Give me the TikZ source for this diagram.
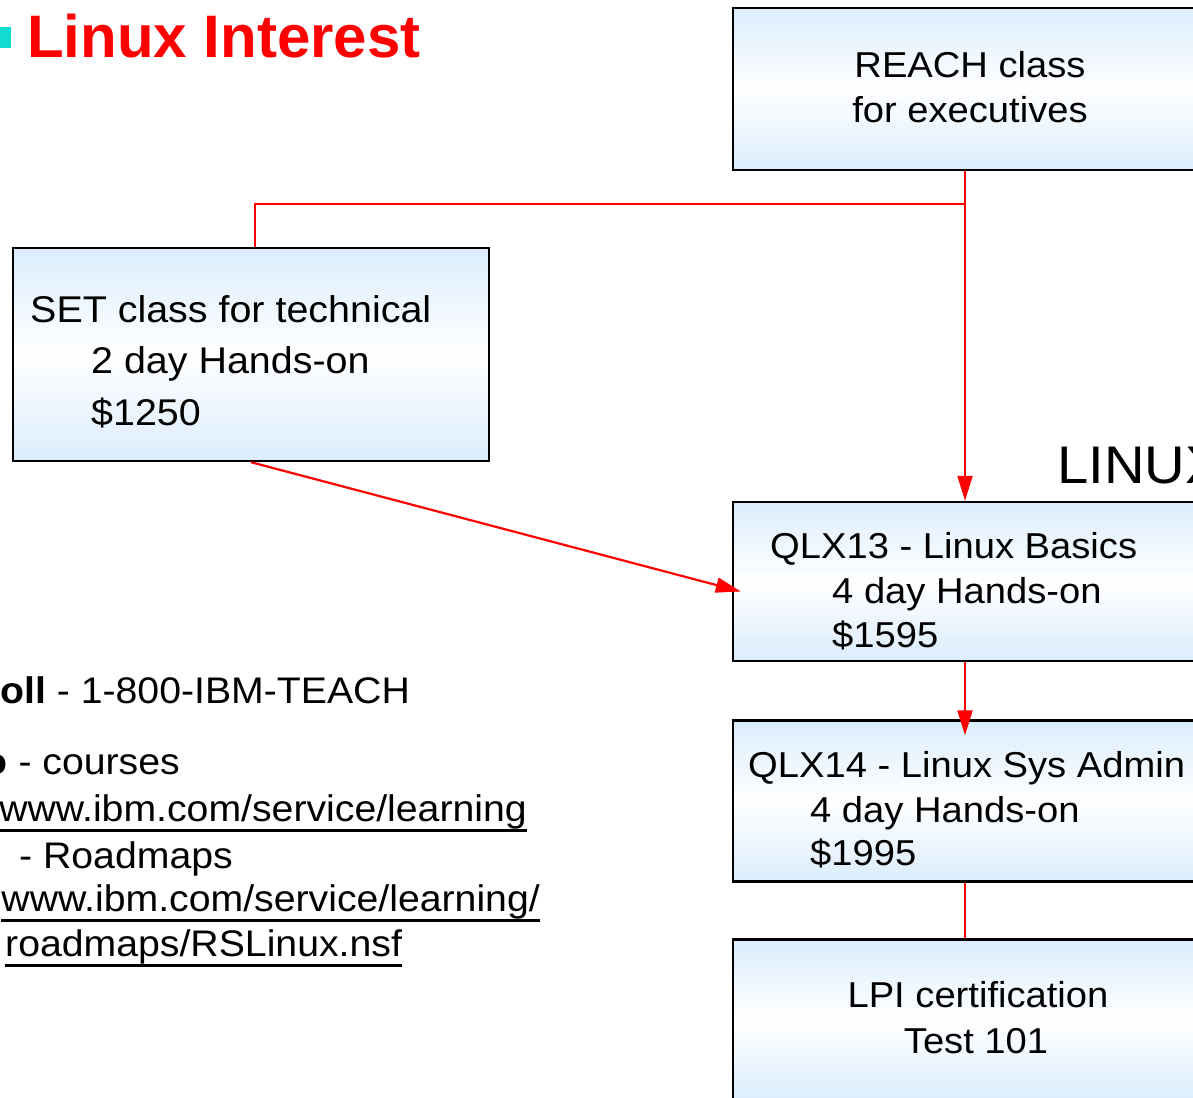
\documentclass[tikz,border=0pt]{standalone}
\usepackage{fontspec}
\setmainfont[FakeStretch=1.06]{Liberation Sans}
\newfontfamily\titlefont{Liberation Sans}
\usetikzlibrary{arrows.meta}
\definecolor{boxblue}{RGB}{219,237,253}
\definecolor{linkred}{RGB}{255,0,0}
\definecolor{bulletcyan}{RGB}{16,220,210}

\begin{document}
\begin{tikzpicture}[x=1pt, y=-1pt,
    course/.style={rectangle, draw=black, line width=2.4pt, top color=boxblue, bottom color=boxblue, middle color=white, minimum width=474pt, inner sep=0},
    link/.style={draw=linkred, line width=2.2pt},
    arrow/.style={link, -{Triangle[length=25pt, width=15pt]}},
    boxtext/.style={inner sep=0, anchor=base west, font=\fontsize{36}{43}\selectfont},
    settext/.style={boxtext, font=\fontsize{37.2}{45}\selectfont},
    sidetext/.style={boxtext, font=\fontsize{37}{44}\selectfont},
    uline/.style={line width=3pt}]
    \useasboundingbox (0,0) rectangle (1193,1097);

    \node[fill=bulletcyan, minimum size=21pt, inner sep=0] (bullet) at (0,37.5) {};
    \node[inner sep=0, anchor=base west, text=linkred, font=\titlefont\bfseries\fontsize{60}{72}\selectfont] (title) at (27,58) {Linux Interest};

    \node[course, minimum height=162pt] (reach) at (970,89) {};
    \node[course, minimum width=476pt, minimum height=213pt] (set) at (251,354.5) {};
    \node[course, minimum height=159pt] (qlx13) at (970,581.5) {};
    \node[course, minimum height=161pt] (qlx14) at (970,801) {};
    \node[course, minimum height=161pt] (lpi) at (970,1020) {};

    \node[boxtext, anchor=base] (reach1) at (970,78) {REACH class};
    \node[boxtext, anchor=base] (reach2) at (970,123) {for executives};
    \node[settext] (set1) at (30,322) {SET class for technical};
    \node[settext] (set2) at (91,373) {2 day Hands-on};
    \node[settext] (set3) at (91,425) {\$1250};
    \node[boxtext, font=\fontsize{53}{64}\selectfont] (linux) at (1057,483) {LINUX};
    \node[boxtext] (qlx13a) at (770,558) {QLX13 - Linux Basics};
    \node[boxtext] (qlx13b) at (832,603) {4 day Hands-on};
    \node[boxtext] (qlx13c) at (832,647) {\$1595};
    \node[boxtext] (qlx14a) at (748,777) {QLX14 - Linux Sys Admin};
    \node[boxtext] (qlx14b) at (810,822) {4 day Hands-on};
    \node[boxtext] (qlx14c) at (810,865) {\$1995};
    \node[boxtext, anchor=base] (lpi1) at (978,1007) {LPI certification};
    \node[boxtext, anchor=base] (lpi2) at (976,1053) {Test 101};

    \coordinate (split) at (965,204);
    \draw[arrow] (reach.south -| split) -- (qlx13.north -| split);
    \draw[link] (split) -| ([xshift=4pt]set.north);
    \draw[arrow] (set.south) -- ([xshift=9pt, yshift=-10pt]qlx13.west);
    \draw[arrow, shorten >=-16pt] (qlx13.south -| split) -- (qlx14.north -| split);
    \draw[link] (qlx14.south -| split) -- (lpi.north -| split);

    \node[sidetext] (phone) at (0,703) {\textbf{oll} - 1-800-IBM-TEACH};
    \node[sidetext, anchor=base east] (courses) at (180,774) {\textbf{o} - courses};
    \node[sidetext, anchor=base east] (url1) at (527,821) {www.ibm.com/service/learning};
    \node[sidetext] (roadmaps) at (19,868) {- Roadmaps};
    \node[sidetext, anchor=base east] (url2) at (540,911) {www.ibm.com/service/learning/};
    \node[sidetext] (url3) at (5,956) {roadmaps/RSLinux.nsf};
    \foreach \u in {url1,url2,url3}
        \draw[uline] ([yshift=-9pt]\u.base west) -- ([yshift=-9pt]\u.base east);
\end{tikzpicture}
\end{document}
